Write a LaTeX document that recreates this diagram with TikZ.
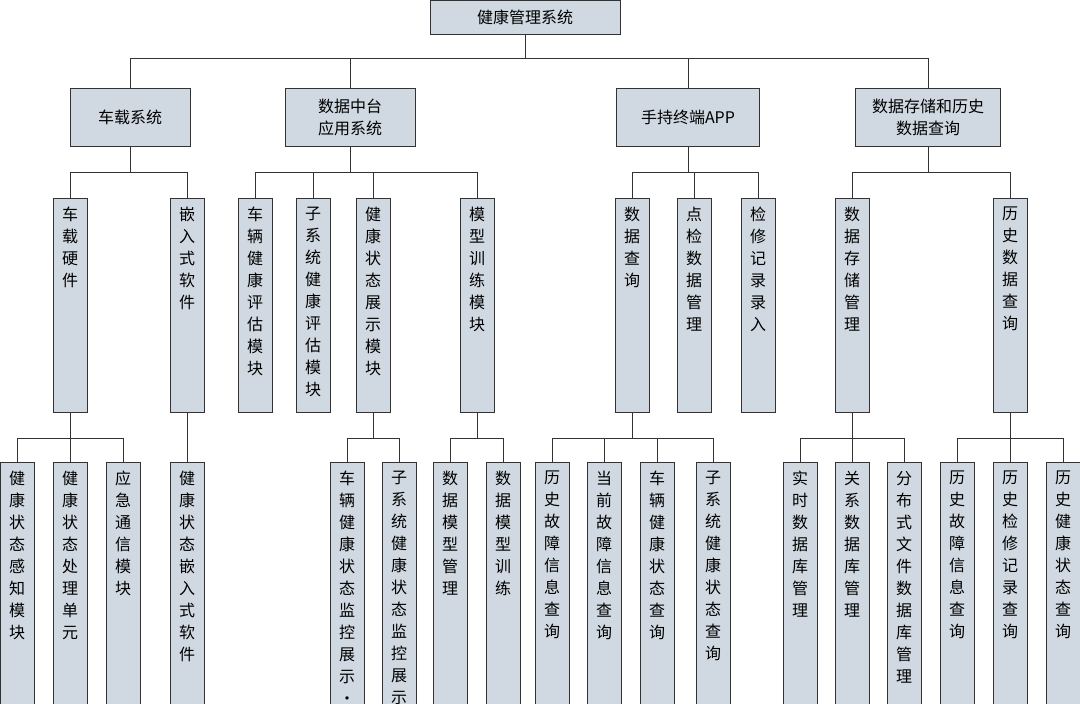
\documentclass[tikz,border=0pt]{standalone}
\usepackage{fontspec}
\setmainfont{Noto Sans CJK SC}
\XeTeXlinebreaklocale "zh"
\XeTeXlinebreakskip=0pt plus 1pt
\usetikzlibrary{positioning}
\tikzset{
  box/.style={draw=black!80, fill=boxfill, inner sep=0pt, font=\fontsize{16}{22}\selectfont, align=center},
  hbox/.style={box, minimum height=58pt},
  vbox/.style={box, minimum width=34pt, anchor=north},
  link/.style={draw=black!80, line width=0.6pt}
}
\definecolor{boxfill}{HTML}{D0D9E1}
\newcommand{\vt}[2]{\parbox[c][#1pt][t]{1.05em}{\vspace{9pt}\centering #2}}
\begin{document}
\begin{tikzpicture}[x=1pt,y=-1pt]
  \useasboundingbox (0,0) rectangle (1080,704);
  \begin{scope}
  \clip (0,0) rectangle (1080,704);

  % root
  \node[box, minimum width=190pt, minimum height=34pt] (root) at (525,17) {健康管理系统};

  % level 1
  \node[hbox, minimum width=120pt] (car) at (130,117) {车载系统};
  \node[hbox, minimum width=130pt] (mid) at (350,117) {数据中台\\应用系统};
  \node[hbox, minimum width=143pt] (app) at (688,117) {手持终端APP};
  \node[hbox, minimum width=145pt] (db) at (928,117) {数据存储和历史\\数据查询};

  % level 2
  \node[vbox] (hw) at (70,198) {\vt{214}{车载硬件}};
  \node[vbox] (sw) at (187,198) {\vt{214}{嵌入式软件}};
  \node[vbox] (veh) at (255,198) {\vt{214}{车辆健康评估模块}};
  \node[vbox] (sub) at (313,198) {\vt{214}{子系统健康评估模块}};
  \node[vbox] (show) at (373,198) {\vt{214}{健康状态展示模块}};
  \node[vbox] (train) at (477,198) {\vt{214}{模型训练模块}};
  \node[vbox] (query) at (632,198) {\vt{214}{数据查询}};
  \node[vbox] (check) at (694,198) {\vt{214}{点检数据管理}};
  \node[vbox] (rec) at (758,198) {\vt{214}{检修记录录入}};
  \node[vbox] (store) at (852,198) {\vt{214}{数据存储管理}};
  \node[vbox] (hist) at (1010,198) {\vt{214}{历史数据查询}};

  % level 3
  \node[vbox] (hw1) at (17,462) {\vt{250}{健康状态感知模块}};
  \node[vbox] (hw2) at (70,462) {\vt{250}{健康状态处理单元}};
  \node[vbox] (hw3) at (123,462) {\vt{250}{应急通信模块}};
  \node[vbox] (sw1) at (187,462) {\vt{250}{健康状态嵌入式软件}};
  \node[vbox] (show1) at (347,462) {\vt{250}{车辆健康状态监控展示·}};
  \node[vbox] (show2) at (399,462) {\vt{250}{子系统健康状态监控展示}};
  \node[vbox] (tr1) at (450,462) {\vt{250}{数据模型管理}};
  \node[vbox] (tr2) at (503,462) {\vt{250}{数据模型训练}};
  \node[vbox] (q1) at (552,462) {\vt{250}{历史故障信息查询}};
  \node[vbox] (q2) at (604,462) {\vt{250}{当前故障信息查询}};
  \node[vbox] (q3) at (657,462) {\vt{250}{车辆健康状态查询}};
  \node[vbox] (q4) at (713,462) {\vt{250}{子系统健康状态查询}};
  \node[vbox] (st1) at (800,462) {\vt{250}{实时数据库管理}};
  \node[vbox] (st2) at (852,462) {\vt{250}{关系数据库管理}};
  \node[vbox] (st3) at (904,462) {\vt{250}{分布式文件数据库管理}};
  \node[vbox] (hi1) at (957,462) {\vt{250}{历史故障信息查询}};
  \node[vbox] (hi2) at (1010,462) {\vt{250}{历史检修记录查询}};
  \node[vbox] (hi3) at (1063,462) {\vt{250}{历史健康状态查询}};

  % connectors
  \draw[link] (root.south) -- ++(0,24) coordinate (rb);
  \foreach \c in {car,mid,app,db} \draw[link] (rb) -| (\c.north);
  \draw[link] (car.south) -- ++(0,26) coordinate (cb);
  \foreach \c in {hw,sw} \draw[link] (cb) -| (\c.north);
  \draw[link] (mid.south) -- ++(0,26) coordinate (mb);
  \foreach \c in {veh,sub,show,train} \draw[link] (mb) -| (\c.north);
  \draw[link] (app.south) -- ++(0,26) coordinate (ab);
  \foreach \c in {query,check,rec} \draw[link] (ab) -| (\c.north);
  \draw[link] (db.south) -- ++(0,26) coordinate (db2);
  \foreach \c in {store,hist} \draw[link] (db2) -| (\c.north);

  \draw[link] (hw.south) -- ++(0,26) coordinate (hb);
  \foreach \c in {hw1,hw2,hw3} \draw[link] (hb) -| (\c.north);
  \draw[link] (sw.south) -- (sw1.north);
  \draw[link] (show.south) -- ++(0,26) coordinate (sb);
  \foreach \c in {show1,show2} \draw[link] (sb) -| (\c.north);
  \draw[link] (train.south) -- ++(0,26) coordinate (tb);
  \foreach \c in {tr1,tr2} \draw[link] (tb) -| (\c.north);
  \draw[link] (query.south) -- ++(0,26) coordinate (qb);
  \foreach \c in {q1,q2,q3,q4} \draw[link] (qb) -| (\c.north);
  \draw[link] (store.south) -- ++(0,26) coordinate (stb);
  \foreach \c in {st1,st2,st3} \draw[link] (stb) -| (\c.north);
  \draw[link] (hist.south) -- ++(0,26) coordinate (hib);
  \foreach \c in {hi1,hi2,hi3} \draw[link] (hib) -| (\c.north);
  \end{scope}
\end{tikzpicture}
\end{document}
